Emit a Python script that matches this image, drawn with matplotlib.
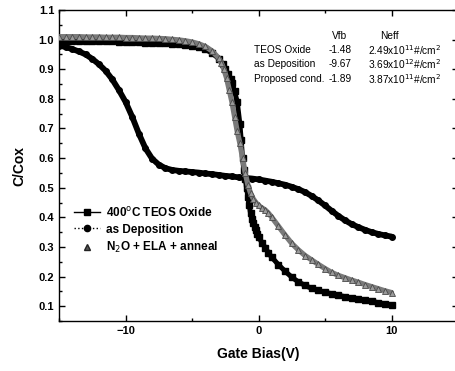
import matplotlib
matplotlib.use("Agg")
import matplotlib.pyplot as plt
from matplotlib.lines import Line2D
from matplotlib.ticker import MultipleLocator

plt.rcParams['font.family'] = ['Liberation Sans', 'DejaVu Sans']

# ---- data ----
teos_x = [-15, -14.5, -14, -13.5, -13, -12.5, -12, -11.5, -11, -10.5, -10, -9.5, -9, -8.5, -8, -7.5,
          -7, -6.5, -6, -5.5, -5, -4.5, -4, -3.5, -3, -2.7, -2.5, -2.3, -2.1, -2.0, -1.8, -1.6, -1.4,
          -1.3, -1.2, -1.1, -1.0, -0.9, -0.8, -0.7, -0.6, -0.5, -0.4, -0.3, -0.2, -0.1, 0.0, 0.25, 0.5,
          0.75, 1.0, 1.5, 2.0, 2.5, 3.0, 3.5, 4.0, 4.5, 5.0, 5.5, 6.0, 6.5, 7.0, 7.5, 8.0, 8.5, 9.0,
          9.5, 10.0]
teos_y = [0.995, 0.995, 0.995, 0.995, 0.995, 0.995, 0.995, 0.994, 0.994, 0.993, 0.993, 0.992, 0.991,
          0.990, 0.990, 0.989, 0.988, 0.986, 0.985, 0.982, 0.980, 0.975, 0.967, 0.955, 0.936, 0.918,
          0.902, 0.885, 0.866, 0.855, 0.825, 0.790, 0.715, 0.660, 0.600, 0.560, 0.530, 0.500, 0.470,
          0.440, 0.415, 0.395, 0.380, 0.368, 0.356, 0.345, 0.335, 0.315, 0.298, 0.280, 0.265, 0.240,
          0.218, 0.198, 0.182, 0.170, 0.160, 0.153, 0.147, 0.142, 0.137, 0.132, 0.128, 0.124, 0.120,
          0.116, 0.112, 0.108, 0.105]

dep_x = [-15, -14.5, -14, -13.5, -13, -12.5, -12, -11.5, -11, -10.5, -10, -9.5, -9, -8.5, -8, -7.5,
         -7, -6.5, -6, -5.5, -5, -4.5, -4, -3.5, -3, -2.5, -2, -1.5, -1, -0.5, 0, 0.5, 1, 1.5, 2, 2.5,
         3, 3.5, 4, 4.5, 5, 5.5, 6, 6.5, 7, 7.5, 8, 8.5, 9, 9.5, 10]
dep_y = [0.980, 0.975, 0.968, 0.960, 0.950, 0.935, 0.917, 0.895, 0.866, 0.830, 0.790, 0.740, 0.683,
         0.633, 0.598, 0.578, 0.566, 0.560, 0.557, 0.555, 0.553, 0.551, 0.548, 0.546, 0.543, 0.540,
         0.538, 0.535, 0.533, 0.531, 0.528, 0.524, 0.520, 0.515, 0.510, 0.503, 0.495, 0.485, 0.472,
         0.457, 0.440, 0.422, 0.405, 0.390, 0.377, 0.367, 0.358, 0.350, 0.344, 0.339, 0.335]

n2o_x = [-15, -14.5, -14, -13.5, -13, -12.5, -12, -11.5, -11, -10.5, -10, -9.5, -9, -8.5, -8, -7.5,
         -7, -6.5, -6, -5.5, -5, -4.5, -4, -3.5, -3, -2.8, -2.6, -2.4, -2.2, -2.0, -1.8, -1.6, -1.4,
         -1.2, -1.0, -0.8, -0.6, -0.4, -0.2, 0.0, 0.25, 0.5, 0.75, 1.0, 1.5, 2.0, 2.5, 3.0, 3.5, 4.0,
         4.5, 5.0, 5.5, 6.0, 6.5, 7.0, 7.5, 8.0, 8.5, 9.0, 9.5, 10.0]
n2o_y = [1.010, 1.010, 1.010, 1.010, 1.009, 1.009, 1.009, 1.008, 1.008, 1.008, 1.007, 1.007, 1.006,
         1.005, 1.005, 1.004, 1.003, 1.001, 0.999, 0.996, 0.992, 0.986, 0.977, 0.962, 0.938, 0.922,
         0.900, 0.870, 0.830, 0.790, 0.740, 0.690, 0.650, 0.600, 0.550, 0.510, 0.482, 0.463, 0.450,
         0.440, 0.432, 0.425, 0.414, 0.400, 0.370, 0.340, 0.312, 0.290, 0.271, 0.256, 0.241, 0.227,
         0.214, 0.204, 0.196, 0.188, 0.181, 0.173, 0.166, 0.159, 0.152, 0.146]

series_labels = ['400$^{\\rm o}$C TEOS Oxide', 'as Deposition', 'N$_{\\rm 2}$O + ELA + anneal']

table_rows = ['TEOS Oxide', 'as Deposition', 'Proposed cond.']
table_vfb = ['-1.48', '-9.67', '-1.89']
table_neff = ['2.49x10$^{11}$#/cm$^{2}$', '3.69x10$^{12}$#/cm$^{2}$', '3.87x10$^{11}$#/cm$^{2}$']

# ---- figure ----
fig = plt.figure(figsize=(4.56, 3.71), dpi=100)
ax = fig.add_axes([59 / 456, 50 / 371, 399 / 456, 311 / 371])

# thick traces (dense measured points appear as thick bands)
ax.plot(dep_x, dep_y, '-', color='black', lw=4.2, solid_capstyle='round', solid_joinstyle='round', zorder=3)
ax.plot(dep_x, dep_y, 'o', color='black', ms=4, zorder=3)
ax.plot(teos_x, teos_y, '-', color='black', lw=3.6, solid_capstyle='round', solid_joinstyle='round', zorder=4)
ax.plot(teos_x, teos_y, 's', color='black', ms=3.8, zorder=4)
ax.plot(n2o_x, n2o_y, '-', color='#7a7a7a', lw=3.8, solid_capstyle='round', solid_joinstyle='round', zorder=5)
ax.plot(n2o_x, n2o_y, '^', ms=3.8, mfc='#9a9a9a', mec='#4a4a4a', mew=0.6, ls='none', zorder=5)

ax.set_xlim(-15, 15)
ax.set_ylim(0.05, 1.1)
ax.xaxis.set_major_locator(MultipleLocator(10))
ax.xaxis.set_minor_locator(MultipleLocator(5))
ax.yaxis.set_minor_locator(MultipleLocator(0.05))
ax.set_yticks([0.1, 0.2, 0.3, 0.4, 0.5, 0.6, 0.7, 0.8, 0.9, 1.0, 1.1])
ax.set_yticklabels(['0.1', '0.2', '0.3', '0.4', '0.5', '0.6', '0.7', '0.8', '0.9', '1.0', '1.1'])
ax.tick_params(which='both', direction='in', top=True, right=True, width=1.0)
ax.tick_params(which='major', length=4, labelsize=8)
ax.tick_params(which='minor', length=2)
for lab in ax.get_xticklabels() + ax.get_yticklabels():
    lab.set_fontweight('bold')
for s in ax.spines.values():
    s.set_linewidth(1.0)

ax.set_xlabel('Gate Bias(V)', fontsize=10, fontweight='bold', labelpad=8)
ax.set_ylabel('C/Cox', fontsize=10, fontweight='bold', labelpad=9)

# legend
handles = [
    Line2D([], [], color='black', lw=1.0, marker='s', ms=4.5),
    Line2D([], [], color='black', lw=1.0, ls=':', marker='o', ms=4.5),
    Line2D([], [], color='black', lw=0, marker='^', ms=4.5, mfc='#555555', mec='#222222'),
]
ax.legend(handles, series_labels, loc='lower left', bbox_to_anchor=(0.02, 0.19), frameon=False,
          prop={'weight': 'bold', 'size': 8.5}, handlelength=2.2, handletextpad=0.5,
          labelspacing=0.35, borderaxespad=0.2)

# annotation table
def fig_xy(px, py):
    return px / 456, 1 - py / 371

fig.text(*fig_xy(332, 36), 'Vfb', fontsize=7.3, va='center', ha='left')
fig.text(*fig_xy(380, 36), 'Neff', fontsize=7.3, va='center', ha='left')
row_y = [50, 64, 79]
for name, vfb, neff, yy in zip(table_rows, table_vfb, table_neff, row_y):
    fig.text(*fig_xy(254, yy), name, fontsize=7.3, va='center', ha='left')
    fig.text(*fig_xy(329, yy), vfb, fontsize=7.3, va='center', ha='left')
    fig.text(*fig_xy(368, yy), neff, fontsize=7.3, va='center', ha='left')

fig.savefig('out.png', dpi=100)
